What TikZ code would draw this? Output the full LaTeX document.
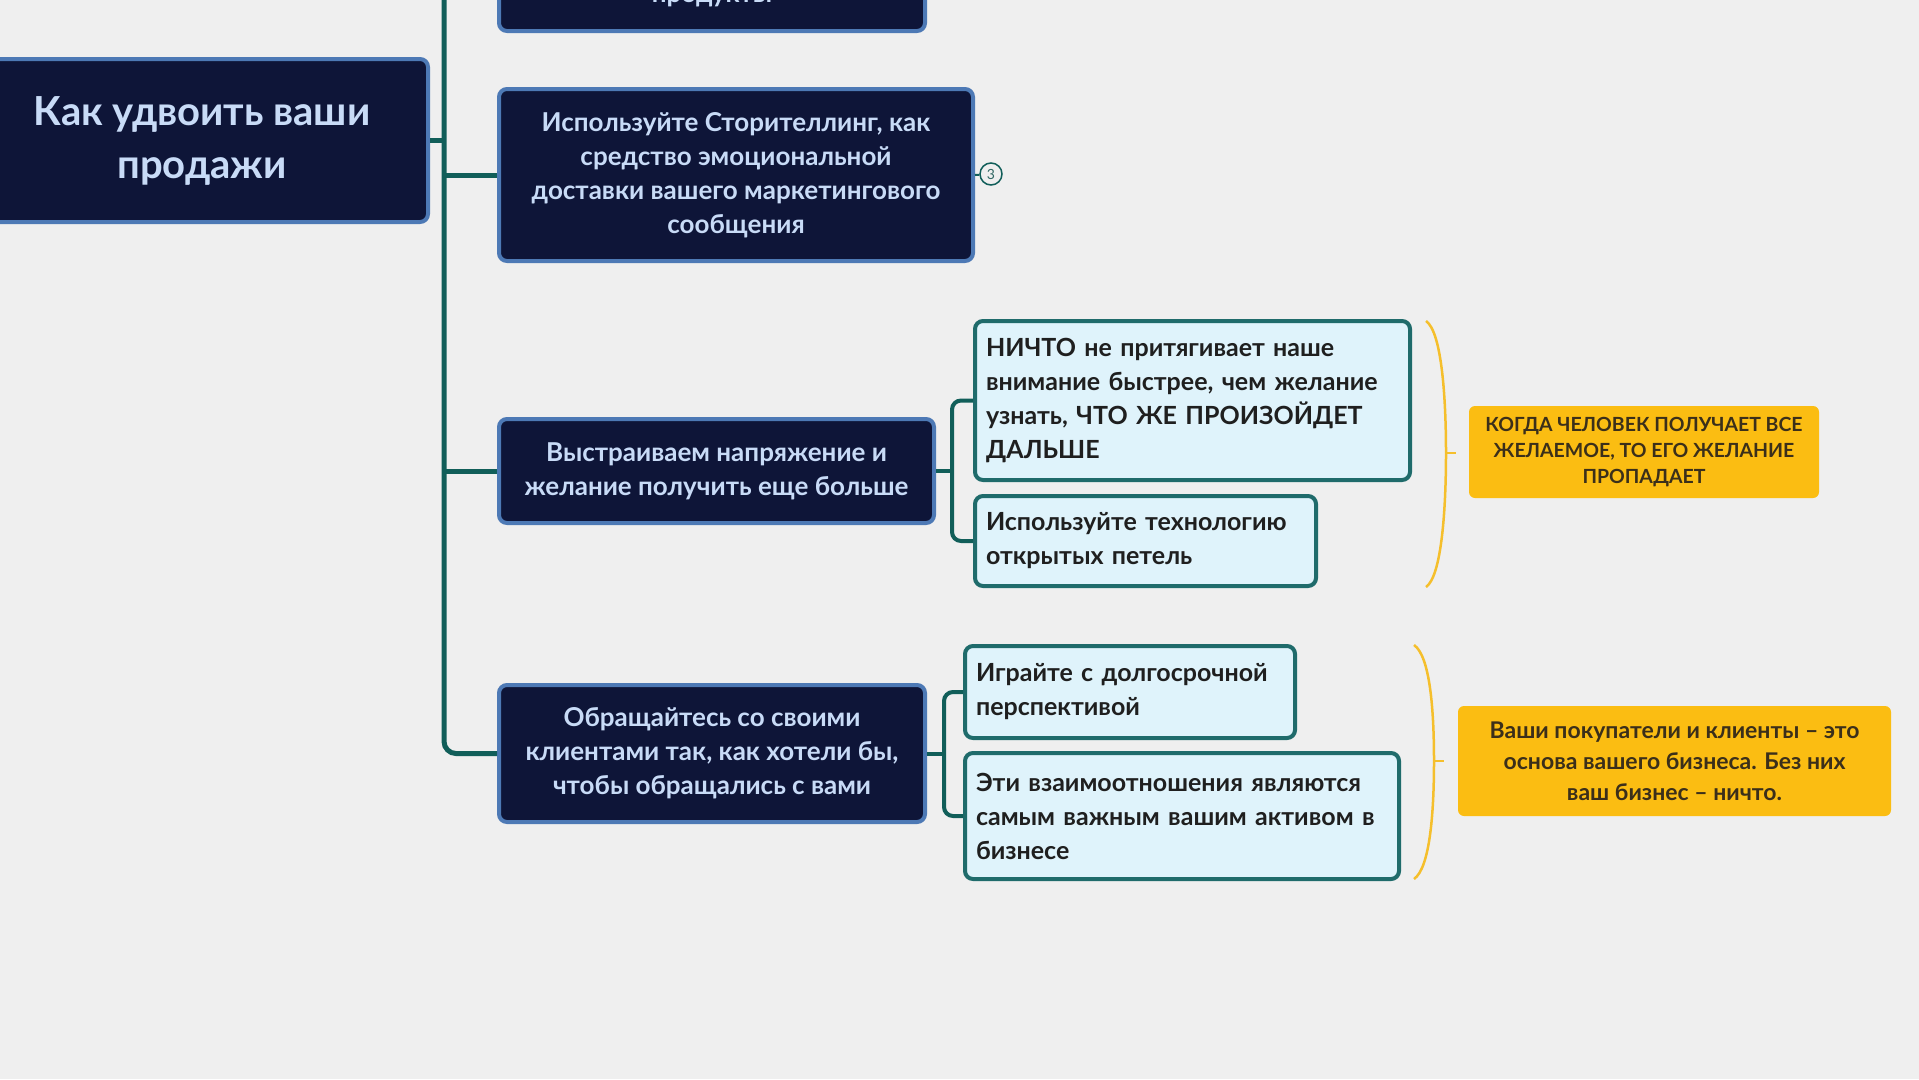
\documentclass[tikz,border=0pt]{standalone}
\usepackage{fontspec}
\setmainfont{Lato}
\usepackage{tikz}
\usetikzlibrary{positioning}
\definecolor{bgcol}{HTML}{EFEFEF}
\definecolor{navy}{HTML}{0E1538}
\definecolor{navyedge}{HTML}{4D79B5}
\definecolor{navytext}{HTML}{C8DBF7}
\definecolor{teal}{HTML}{115E59}
\definecolor{childfill}{HTML}{DFF3FB}
\definecolor{childedge}{HTML}{1F6B6B}
\definecolor{notefill}{HTML}{FBBD12}
\definecolor{notetext}{HTML}{3B2F1A}
\definecolor{curlcol}{HTML}{F5BF2C}

\begin{document}
\begin{tikzpicture}[x=1pt, y=-1pt,
  mainbox/.style={draw=navyedge, fill=navy, text=navytext, line width=4pt,
                  rounded corners=8pt, align=center,
                  font=\bfseries\fontsize{26}{34}\selectfont},
  childbox/.style={draw=childedge, fill=childfill, text=black!88, line width=4pt,
                   rounded corners=8pt, align=left, inner xsep=11pt,
                   font=\bfseries\fontsize{25}{34}\selectfont},
  notebox/.style={fill=notefill, text=notetext, rounded corners=6pt, align=center},
  trunk/.style={draw=teal, line width=5pt},
  branch/.style={draw=teal, line width=4pt},
  curl/.style={draw=curlcol, line width=2.5pt}]
\fill[bgcol] (0,0) rectangle (1919,1079);
\clip (0,0) rectangle (1919,1079);
%
\node[mainbox, minimum width=452pt, minimum height=163pt,
      font=\bfseries\fontsize{40}{53}\selectfont] (root) at (202,140.5)
      {Как удвоить ваши\\продажи};
\node[mainbox, minimum width=426pt, minimum height=66pt] (s1) at (712,-2) {продукты};
\node[mainbox, minimum width=474pt, minimum height=172pt] (s2) at (736,175)
      {Используйте Сторителлинг, как\\средство эмоциональной\\доставки вашего маркетингового\\сообщения};
\node[mainbox, minimum width=435pt, minimum height=104pt] (s3) at (716.5,471)
      {Выстраиваем напряжение и\\желание получить еще больше};
\node[mainbox, minimum width=426pt, minimum height=137pt] (s4) at (712,753.5)
      {Обращайтесь со своими\\клиентами так, как хотели бы,\\чтобы обращались с вами};
%
\node[circle, draw=teal, line width=1.5pt, fill=bgcol, text=teal!70!gray,
      minimum size=22pt, inner sep=0pt, font=\fontsize{14}{14}\selectfont] (c2) at (991,174) {3};
%
\node[childbox, text width=413pt, minimum height=159pt] (d1) at (1192.5,400.5)
      {НИЧТО не притягивает наше\\внимание быстрее, чем желание\\узнать, ЧТО ЖЕ ПРОИЗОЙДЕТ\\ДАЛЬШЕ};
\node[childbox, text width=319pt, minimum height=90pt] (d2) at (1145.5,541)
      {Используйте технологию\\открытых петель};
\node[childbox, text width=308pt, minimum height=92pt] (d3) at (1130,692)
      {Играйте с долгосрочной\\перспективой};
\node[childbox, text width=412pt, minimum height=126pt] (d4) at (1182,816)
      {Эти взаимоотношения являются\\самым важным вашим активом~в\\бизнесе};
%
\node[notebox, minimum width=350pt, minimum height=92pt,
      font=\bfseries\fontsize{19.5}{26}\selectfont] (n1) at (1644,452)
      {КОГДА ЧЕЛОВЕК ПОЛУЧАЕТ ВСЕ\\ЖЕЛАЕМОЕ, ТО ЕГО ЖЕЛАНИЕ\\ПРОПАДАЕТ};
\node[notebox, minimum width=433pt, minimum height=110pt,
      font=\bfseries\fontsize{23}{31}\selectfont] (n2) at (1674.5,761)
      {Ваши покупатели и клиенты – это\\основа вашего бизнеса. Без них\\ваш бизнес – ничто.};
%
\coordinate (top) at (444,-20);
\draw[trunk] (root.east) -- (top|-root.east);
\draw[trunk, rounded corners=12pt] (top) |- (s4.west);
\draw[trunk] (top|-s2.west) -- (s2.west);
\draw[trunk] (top|-s3.west) -- (s3.west);
\draw[branch, line width=2pt] (s2.east) -- (c2);
%
\coordinate (b3) at (952,0);
\coordinate (b4) at (944,0);
\draw[branch] (s3.east) -- (b3|-s3.east);
\draw[branch, rounded corners=9pt] (d1.west) -| (b3|-s3.east) |- (d2.west);
\draw[branch] (s4.east) -- (b4|-s4.east);
\draw[branch, rounded corners=9pt] (d3.west) -| (b4|-s4.east) |- (d4.west);
%
\draw[curl] (1426,321) .. controls (1442,332) and (1446,400) .. (1446,453)
            .. controls (1446,506) and (1442,576) .. (1426,587);
\draw[curl] (1446,453) -- (1456,453);
\draw[curl] (1414,645) .. controls (1430,656) and (1434,710) .. (1434,761)
            .. controls (1434,812) and (1430,868) .. (1414,879);
\draw[curl] (1434,761) -- (1444,761);
\end{tikzpicture}
\end{document}
